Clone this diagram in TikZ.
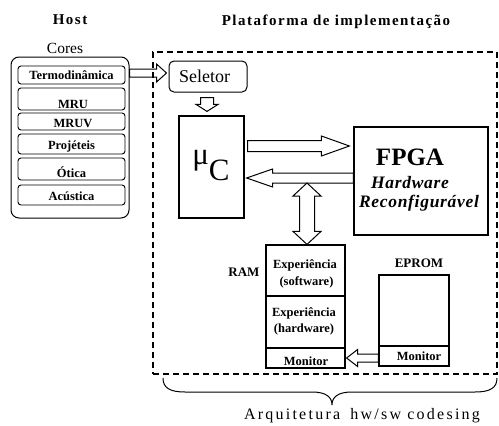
\documentclass[tikz,border=0pt]{standalone}
\usepackage{fontspec}
\setmainfont{Liberation Serif}
\usetikzlibrary{calc}

% font size helpers (1pt = 1 output pixel)
\newcommand\fsz[1]{\fontsize{#1}{#1}\selectfont}
\newcommand\fszb[2]{\fontsize{#1}{#2}\selectfont}
\newcommand\spaced[1]{\addfontfeatures{LetterSpace=#1}}

% hollow block arrow: start, tip, shaft half width, head half width, head length
\newcommand\hollowarrow[5]{%
  \coordinate (ha-n) at ($(#2)!#5pt!(#1)$);
  \draw[hollow] ($(#1)!#3pt!90:(#2)$) -- ($(ha-n)!#3pt!90:(#2)$) -- ($(ha-n)!#4pt!90:(#2)$) -- (#2)
    -- ($(ha-n)!#4pt!-90:(#2)$) -- ($(ha-n)!#3pt!-90:(#2)$) -- ($(#1)!#3pt!-90:(#2)$) -- cycle;}

% hollow block arrow with heads at both ends
\newcommand\hollowdoublearrow[5]{%
  \coordinate (hd-a) at ($(#1)!#5pt!(#2)$);
  \coordinate (hd-b) at ($(#2)!#5pt!(#1)$);
  \draw[hollow] (#1) -- ($(hd-a)!#4pt!90:(#2)$) -- ($(hd-a)!#3pt!90:(#2)$) -- ($(hd-b)!#3pt!90:(#2)$)
    -- ($(hd-b)!#4pt!90:(#2)$) -- (#2) -- ($(hd-b)!#4pt!-90:(#2)$) -- ($(hd-b)!#3pt!-90:(#2)$)
    -- ($(hd-a)!#3pt!-90:(#2)$) -- ($(hd-a)!#4pt!-90:(#2)$) -- cycle;}

\begin{document}
\begin{tikzpicture}[x=1pt,y=-1pt,
  box/.style={draw, line width=1.2pt, inner sep=0pt},
  item/.style={draw, rounded corners=3pt, line width=0.9pt, minimum width=107, inner sep=0pt},
  itemtext/.style={font=\fsz{12.5}\bfseries},
  boldlabel/.style={font=\fsz{13}\bfseries},
  cell/.style={font=\fsz{12.5}\bfseries, align=center},
  heading/.style={font=\fsz{15}\bfseries\spaced{10}},
  hollow/.style={draw, fill=white, line width=1pt, line join=miter},
  platform/.style={draw, dash pattern=on 6pt off 4pt, line width=1.4pt, inner sep=0pt}
]
\useasboundingbox (0,0) rectangle (499,426);

% ---- host side ----
\node[heading] (hosttitle) at (70,20) {Host};
\node[font=\fsz{15.5}] (cores) at (65,48) {Cores};
\node[draw, line width=1pt, rounded corners=8pt, minimum width=118, minimum height=161] (host) at (70,137.5) {};

\node[item, minimum height=18] (termo) at (71.5,75) {};
\node[itemtext] (termot) at (71.5,75) {Termodinâmica};
\node[item, minimum height=22] (mru) at (71.5,99) {};
\node[itemtext] (mrut) at (73,104) {MRU};
\node[item, minimum height=17] (mruv) at (71.5,121.5) {};
\node[itemtext] (mruvt) at (73,123) {MRUV};
\node[item, minimum height=20] (proj) at (71.5,144) {};
\node[itemtext] (projt) at (71.5,146) {Projéteis};
\node[item, minimum height=22] (otica) at (71.5,169) {};
\node[itemtext] (oticat) at (71.5,172) {Ótica};
\node[item, minimum height=20] (acust) at (71.5,195) {};
\node[itemtext] (acustt) at (71.5,196) {Acústica};

% ---- implementation platform ----
\node[heading] (plattitle) at (336,22) {Plataforma de implementação};

\node[box, line width=1pt, rounded corners=5pt, minimum width=78, minimum height=31] (sel) at (208,76.5) {};
\node[font=\fsz{18}, anchor=west] (selt) at ($(sel.west)+(7,0)$) {Seletor};
\node[box, minimum width=65, minimum height=102] (uc) at (211.5,167) {};
\node[font=\fsz{31}] (uct) at (211,166) {μ\raisebox{-16pt}{C}};

\node[box, minimum width=134, minimum height=108] (fpga) at (421,181) {};
\node[font=\fsz{25}\bfseries] (fpgat) at (410,157) {FPGA};
\node[font=\fsz{17.5}\bfseries\itshape\spaced{4}] (hwt) at (410,183) {Hardware};
\node[font=\fsz{17.5}\bfseries\itshape\spaced{4}] (rect) at (419,203) {Reconfigurável};

% RAM column
\node[box, minimum width=79, minimum height=51] (ramsw) at (305.5,270.5) {};
\node[box, minimum width=79, minimum height=52] (ramhw) at (305.5,322) {};
\node[box, minimum width=79, minimum height=20] (rammon) at (305.5,358) {};
\coordinate (ram) at (ramsw.north);
\node[cell, font=\fszb{12.5}{17}\bfseries] (swt) at (305,273.5) {Experiência\\\hspace{3pt}(software)};
\node[cell, font=\fszb{12.5}{16}\bfseries] (hwct) at (304,321) {Experiência\\(hardware)};
\node[itemtext] (ramment) at (306,361) {Monitor};
\node[boldlabel] (ramlabel) at (244,272) {RAM};

% EPROM column
\node[boldlabel] (eplabel) at (419,263) {EPROM};
\node[box, minimum width=70, minimum height=71] (epbody) at (414,310.5) {};
\node[box, minimum width=70, minimum height=20] (epmon) at (414,356) {};
\node[itemtext] (epment) at (419,356) {Monitor};

% ---- block arrows ----
\coordinate (a1s) at ($(host.east |- termo.center)+(0,-2)$);
\coordinate (a1t) at ($(sel.west |- a1s)+(-2,0)$);
\hollowarrow{a1s}{a1t}{4}{9}{10}

\coordinate (a5s) at ($(sel.south)+(-1,5)$);
\coordinate (a5t) at ($(uc.north -| a5s)+(0,-4)$);
\hollowarrow{a5s}{a5t}{6.5}{11}{7}

\coordinate (a2s) at ($(uc.east)+(3,-21)$);
\coordinate (a2t) at ($(fpga.west |- a2s)+(-4,0)$);
\hollowarrow{a2s}{a2t}{5.5}{10}{28}

\coordinate (a3t) at ($(uc.east)+(2,11)$);
\coordinate (a3s) at (fpga.west |- a3t);
\hollowarrow{a3s}{a3t}{5}{9}{26}

\coordinate (a4s) at ($(ram |- a3t)+(1.5,5)$);
\coordinate (a4t) at ($(ram)+(1.5,0)$);
\hollowdoublearrow{a4s}{a4t}{7.5}{14}{13}

\coordinate (a6t) at ($(rammon.east)+(1,0)$);
\coordinate (a6s) at (epmon.west |- a6t);
\hollowarrow{a6s}{a6t}{4}{8.5}{11}

% dashed platform boundary
\node[platform, minimum width=344, minimum height=322] (plat) at (325,213) {};

% brace under the platform
\coordinate (brl) at (163,378);
\coordinate (brr) at (497,378);
\coordinate (brtip) at (332,405);
\draw[line width=1pt] (brl) .. controls (163,388) and (170,392) .. (185,392) -- (312,392)
  .. controls (326,392) and (332,397) .. (brtip)
  .. controls (332,397) and (338,392) .. (352,392) -- (475,392)
  .. controls (490,392) and (497,388) .. (brr);
\node[font=\fsz{16}\spaced{14}] (arqt) at (362,416) {Arquitetura\hspace{4pt} hw/sw codesing};
\end{tikzpicture}
\end{document}
